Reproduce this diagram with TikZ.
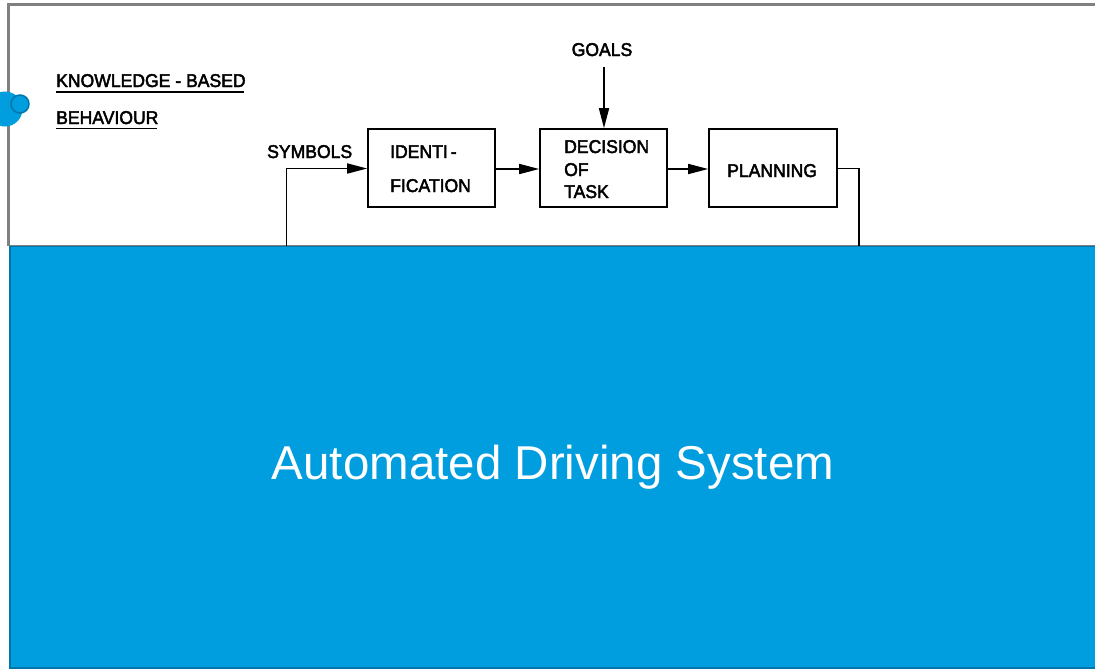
\documentclass[tikz,border=0pt]{standalone}
\usepackage{fontspec}
\setmainfont{Liberation Sans}
\newfontfamily\lettering[FakeBold=2.5,FakeStretch=0.95]{Liberation Sans}
\usetikzlibrary{arrows.meta}
\definecolor{adsblue}{RGB}{0,157,223}
\definecolor{adsedge}{RGB}{0,118,170}
\definecolor{framegray}{RGB}{128,128,128}
\begin{document}
\begin{tikzpicture}[x=1pt,y=-1pt,
  lbl/.style={inner sep=0pt,anchor=base west,font=\lettering\fontsize{18.5}{21}\selectfont},
  blk/.style={draw=black,line width=1.6pt,inner sep=0pt},
  flow/.style={draw=black,line width=1.6pt,-{Triangle[length=20pt,width=10pt]}},
  wire/.style={draw=black,line width=1.6pt}]
\useasboundingbox (0,0) rectangle (1095,670);
\fill[white] (0,0) rectangle (1095,670);
% upper frame
\draw[framegray,line width=3pt] (1100,4.5) -- (8.5,4.5) -- (8.5,246);
% lower block
\fill[adsblue,draw=adsedge,line width=2pt] (9.5,246) rectangle (1100,668);
\draw[framegray,line width=1.2pt] (8.5,245.5) -- (1100,245.5);
\node[text=white,inner sep=0pt,anchor=base,font=\fontsize{47.5}{56}\selectfont] (ads) at (553,479) {Automated Driving System};
% side marker
\fill[adsblue] (5,109) circle (17.5);
\draw[adsedge,line width=1.5pt,fill=adsblue] (20,104) circle (9);
% heading
\node[lbl] (kb) at (56,87) {KNOWLEDGE - BASED};
\node[lbl] (beh) at (56,124) {BEHAVIOUR};
\draw[line width=1.5pt] (56,92) -- (244,92);
\draw[line width=1.5pt] (56,128.5) -- (157,128.5);
% blocks
\node[blk,minimum width=127pt,minimum height=78pt] (ident) at (431.5,168) {};
\node[blk,minimum width=127pt,minimum height=78pt] (dec) at (603.5,168) {};
\node[blk,minimum width=128pt,minimum height=78pt] (plan) at (773,168) {};
\node[lbl] (id1) at (390,158) {IDENTI\,-};
\node[lbl] (id2) at (390,192) {FICATION};
\node[lbl] (d1) at (564,153) {DECISION};
\node[lbl] (d2) at (564,176) {OF};
\node[lbl] (d3) at (564,198) {TASK};
\node[lbl] (pl) at (727,177) {PLANNING};
\node[lbl] (sym) at (267,158) {SYMBOLS};
\node[lbl,anchor=base] (goals) at (602,56) {GOALS};
% connectors
\coordinate (symin) at (286.5,246);
\coordinate (planout) at (859,246);
\draw[flow] (symin) |- (ident.west |- 0,168.5);
\draw[flow] (ident.east |- 0,169) -- (dec.west |- 0,169);
\draw[flow] (dec.east |- 0,169) -- (plan.west |- 0,169);
\draw[flow] (goals.south -| 604,0) ++(0,11) -- (dec.north -| 604,0);
\draw[wire] (plan.east |- 0,168.5) -| (planout);
\end{tikzpicture}
\end{document}
